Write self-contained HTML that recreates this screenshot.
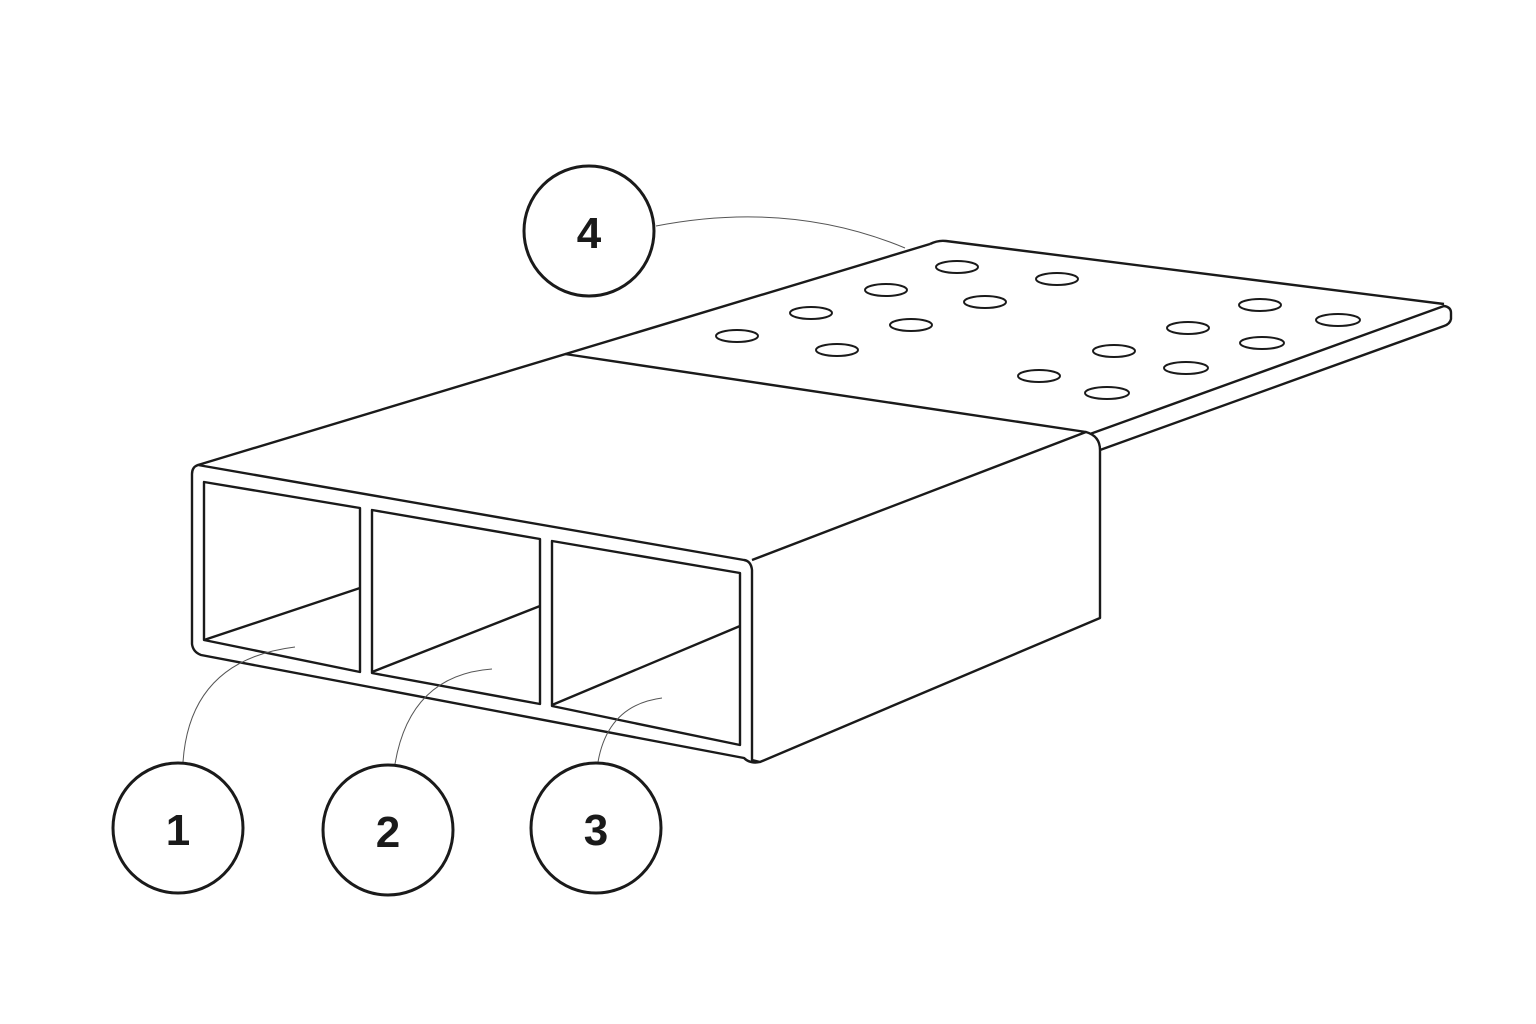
<!DOCTYPE html>
<html><head><style>html,body{margin:0;padding:0;background:#fff}svg{display:block}</style></head><body>
<svg width="1536" height="1024" viewBox="0 0 1536 1024" xmlns="http://www.w3.org/2000/svg">
<rect width="1536" height="1024" fill="#fff"/>
<g fill="none" stroke="#1a1a1a" stroke-width="2.4" stroke-linejoin="round">
<!-- plate -->
<path d="M1090,434 L1444,306 Q1451,307 1451,313 L1451,319 Q1450,324 1444,326 L1100,450"/>
<path d="M930,244 Q938,240 946,241 L1444,304"/>
<!-- top face -->
<path d="M198,465 L930,244"/>
<path d="M565,354 L1086,432"/>
<!-- box right -->
<path d="M752,560 L1086,432 Q1100,436 1100,450 L1100,618 L760,762"/>
<!-- front outer -->
<path d="M198,465 Q192,467 192,474 L192,644 Q193,652 201,655 L744,758 Q750,764 760,762 L752,760 Q752,755 752,748 L752,570 Q751,561 744,560 Z"/>
<!-- inner -->
<path d="M204,482 L360,508 L360,672 L204,640 Z"/>
<path d="M372,510 L540,539 L540,704 L372,673 Z"/>
<path d="M552,541 L740,573 L740,745 L552,706 Z"/>
<path d="M204,640 L360,588 M372,672 L540,606 M552,705 L740,626"/>
</g>
<g fill="none" stroke="#1a1a1a" stroke-width="2">
<ellipse cx="737" cy="336" rx="21" ry="6"/><ellipse cx="811" cy="313" rx="21" ry="6"/>
<ellipse cx="886" cy="290" rx="21" ry="6"/><ellipse cx="957" cy="267" rx="21" ry="6"/>
<ellipse cx="1057" cy="279" rx="21" ry="6"/><ellipse cx="985" cy="302" rx="21" ry="6"/>
<ellipse cx="911" cy="325" rx="21" ry="6"/><ellipse cx="837" cy="350" rx="21" ry="6"/>
<ellipse cx="1260" cy="305" rx="21" ry="6"/><ellipse cx="1338" cy="320" rx="22" ry="6"/>
<ellipse cx="1188" cy="328" rx="21" ry="6"/><ellipse cx="1262" cy="343" rx="22" ry="6"/>
<ellipse cx="1114" cy="351" rx="21" ry="6"/><ellipse cx="1186" cy="368" rx="22" ry="6"/>
<ellipse cx="1039" cy="376" rx="21" ry="6"/><ellipse cx="1107" cy="393" rx="22" ry="6"/>
</g>
<g fill="none" stroke="#555" stroke-width="1">
<path d="M183,762 Q190,660 295,647"/>
<path d="M395,764 Q410,675 492,669"/>
<path d="M598,762 Q608,705 662,698"/>
<path d="M656,226 Q790,200 905,248"/>
</g>
<g fill="#fff" stroke="#1a1a1a" stroke-width="3">
<circle cx="178" cy="828" r="65"/><circle cx="388" cy="830" r="65"/>
<circle cx="596" cy="828" r="65"/><circle cx="589" cy="231" r="65"/>
</g>
<g font-family="Liberation Sans, sans-serif" font-weight="bold" font-size="44" fill="#1a1a1a" text-anchor="middle">
<text x="178" y="845">1</text><text x="388" y="847">2</text>
<text x="596" y="845">3</text><text x="589" y="248">4</text>
</g>
</svg>
</body></html>
